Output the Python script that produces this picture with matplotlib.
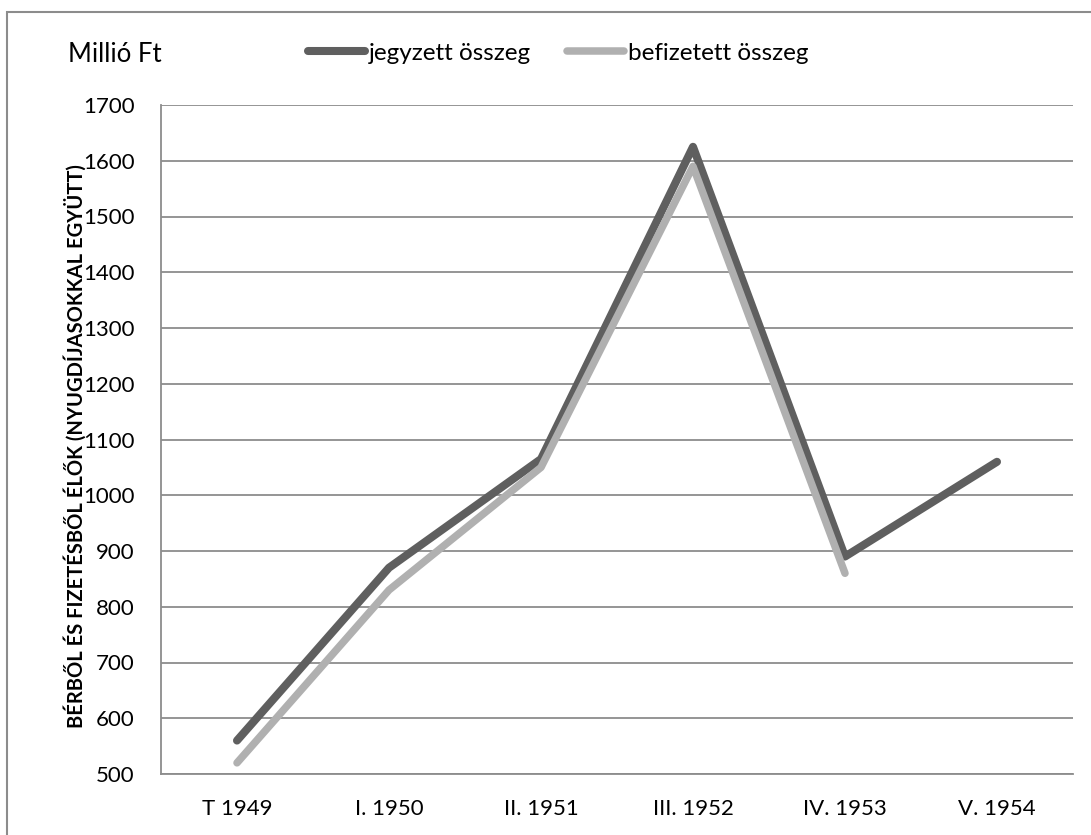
import matplotlib
matplotlib.use("Agg")
import matplotlib.pyplot as plt
from matplotlib.patches import Rectangle

plt.rcParams['font.family'] = ['Lato', 'DejaVu Sans']

categories = ["T 1949", "I. 1950", "II. 1951", "III. 1952", "IV. 1953", "V. 1954"]
jegyzett = [560, 870, 1065, 1625, 890, 1060]
befizetett = [520, 830, 1050, 1590, 860]
series_names = ["jegyzett összeg", "befizetett összeg"]
y_ticks = list(range(500, 1800, 100))
y_title = "BÉRBŐL ÉS FIZETÉSBŐL ÉLŐK (NYUGDÍJASOKKAL EGYÜTT)"
unit = "Millió Ft"

W, H = 1091, 835
fig = plt.figure(figsize=(W / 100, H / 100), dpi=100)
ax = fig.add_axes([161 / W, 1 - 774 / H, (1073 - 161) / W, (774 - 105) / H])

x = list(range(len(categories)))
ax.plot(x[:len(befizetett)], befizetett, color='#b0b0b0', lw=5.4,
        solid_capstyle='round', solid_joinstyle='round', label=series_names[1], zorder=3)
ax.plot(x, jegyzett, color='#5f5f5f', lw=5.8,
        solid_capstyle='round', solid_joinstyle='round', label=series_names[0], zorder=2)

ax.set_xlim(-0.5, len(categories) - 0.5)
ax.set_ylim(500, 1700)
ax.set_yticks(y_ticks)
ax.set_xticks(x)
ax.set_xticklabels(categories)
ax.tick_params(axis='both', length=0, labelsize=16, colors='black')
ax.tick_params(axis='y', pad=19)
ax.tick_params(axis='x', pad=18)
ax.grid(axis='y', color='#8c8c8c', lw=1.3)
ax.set_axisbelow(True)
for s in ['top', 'right']:
    ax.spines[s].set_visible(False)
for s in ['left', 'bottom']:
    ax.spines[s].set_color('#8c8c8c')
    ax.spines[s].set_linewidth(1.3)

fig.text(75 / W, 1 - 446 / H, y_title, rotation=90, ha='center', va='center',
         fontsize=14.5, fontweight='bold')
fig.text(68 / W, 1 - 54 / H, unit, ha='left', va='center', fontsize=18.5)

handles, labels = ax.get_legend_handles_labels()
leg = fig.legend(handles[::-1], labels[::-1], loc='center', bbox_to_anchor=(558 / W, 1 - 53 / H),
                 ncol=2, frameon=False, fontsize=17.5, handlelength=2.35, handletextpad=0.15,
                 columnspacing=1.5)

fig.patches.append(Rectangle((7 / W, -0.1), 1.2, 1.1 - 12 / H, transform=fig.transFigure,
                             fill=False, edgecolor='#8c8c8c', lw=1.5))

fig.savefig("out.png", dpi=100)
